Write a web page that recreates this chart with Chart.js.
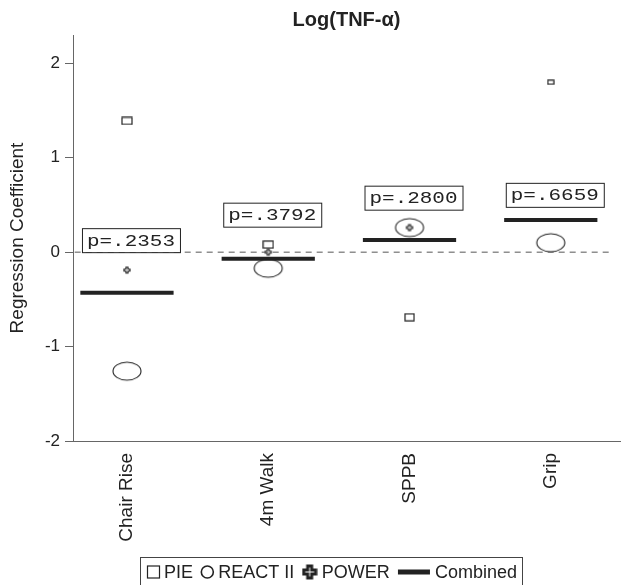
<!DOCTYPE html>
<html>
<head>
<meta charset="utf-8">
<script src="https://cdn.jsdelivr.net/npm/chart.js@4"></script>
<style>
  html, body { margin: 0; padding: 0; background: #fff; }
  #wrap { width: 627px; height: 585px; }
</style>
</head>
<body>
<div id="wrap"><canvas id="chart" width="627" height="585"></canvas></div>
<script>
// Data
const categories = ["Chair Rise", "4m Walk", "SPPB", "Grip"];
const pieValues = [1.39, 0.08, -0.69, 1.80];
const reactValues = [-1.26, -0.17, 0.26, 0.10];
const powerValues = [-0.19, 0.0, 0.26, null];
const combinedValues = [-0.43, -0.07, 0.13, 0.34];
const pValues = ["p=.2353", "p=.3792", "p=.2800", "p=.6659"];
const pLabelY = [0.0, 0.27, 0.45, 0.48]; // bottom of each p box, in data units
const yTicks = [-2, -1, 0, 1, 2];

// marker styling
const pieMarkerSize = [[10, 7], [10, 7], [9, 7], [6, 4]];
const ink = "#222";

function rectMarker(w, h) {
  const c = document.createElement("canvas");
  c.width = w + 2;
  c.height = h + 2;
  const g = c.getContext("2d");
  g.strokeStyle = ink;
  g.lineWidth = 1.2;
  g.strokeRect(1, 1, w, h);
  return c;
}

function ellipseMarker(w, h, lw) {
  const c = document.createElement("canvas");
  c.width = w + 4;
  c.height = h + 4;
  const g = c.getContext("2d");
  g.strokeStyle = ink;
  g.lineWidth = lw;
  g.beginPath();
  g.ellipse(c.width / 2, c.height / 2, w / 2, h / 2, 0, 0, Math.PI * 2);
  g.stroke();
  return c;
}

function plusMarker(s, lw) {
  const c = document.createElement("canvas");
  c.width = s + 4;
  c.height = s + 4;
  const g = c.getContext("2d");
  const a = s / 3, o = 2;
  g.strokeStyle = ink;
  g.fillStyle = "#fff";
  g.lineWidth = lw;
  g.beginPath();
  g.moveTo(o + a, o);
  g.lineTo(o + 2 * a, o);
  g.lineTo(o + 2 * a, o + a);
  g.lineTo(o + s, o + a);
  g.lineTo(o + s, o + 2 * a);
  g.lineTo(o + 2 * a, o + 2 * a);
  g.lineTo(o + 2 * a, o + s);
  g.lineTo(o + a, o + s);
  g.lineTo(o + a, o + 2 * a);
  g.lineTo(o, o + 2 * a);
  g.lineTo(o, o + a);
  g.lineTo(o + a, o + a);
  g.closePath();
  g.fill();
  g.stroke();
  return c;
}

const reactMarker = ellipseMarker(28, 18, 1.1);
const powerMarker = plusMarker(6, 1.2);

const xMin = 0.618;
const xMax = 4.49;
const halfWidth = 0.33;

function toPoints(values) {
  return values.map((v, i) => ({ x: i + 1, y: v }));
}

const combinedPoints = [];
combinedValues.forEach((v, i) => {
  combinedPoints.push({ x: i + 1 - halfWidth, y: v });
  combinedPoints.push({ x: i + 1 + halfWidth, y: v });
  combinedPoints.push({ x: i + 1 + halfWidth + 0.01, y: null });
});

// p-value boxes
const pBoxes = {
  id: "pBoxes",
  afterDatasetsDraw(chart) {
    const ctx = chart.ctx;
    const xs = chart.scales.x, ys = chart.scales.y;
    ctx.save();
    pValues.forEach((txt, i) => {
      const cx = xs.getPixelForValue(i + 1) + 4;
      const bottom = ys.getPixelForValue(pLabelY[i]);
      const w = 98, h = 24;
      ctx.fillStyle = "#fff";
      ctx.fillRect(cx - w / 2, bottom - h, w, h);
      ctx.strokeStyle = ink;
      ctx.lineWidth = 1;
      ctx.strokeRect(cx - w / 2 + 0.5, bottom - h + 0.5, w, h);
      ctx.font = "17px 'Liberation Mono'";
      const tw = ctx.measureText(txt).width;
      ctx.translate(cx, bottom - h / 2 + 1);
      ctx.scale(88 / tw, 1);
      ctx.fillStyle = ink;
      ctx.textAlign = "center";
      ctx.textBaseline = "middle";
      ctx.fillText(txt, 0, 0);
      ctx.setTransform(1, 0, 0, 1, 0, 0);
    });
    ctx.restore();
  }
};

// boxed legend at the bottom
const boxLegend = {
  id: "boxLegend",
  afterDraw(chart) {
    const ctx = chart.ctx;
    const left = 140, right = 522, top = 557, cy = 572;
    ctx.save();
    ctx.strokeStyle = "#444";
    ctx.lineWidth = 1;
    ctx.strokeRect(left + 0.5, top + 0.5, right - left, 40);
    ctx.font = "18px 'Liberation Sans'";
    ctx.fillStyle = ink;
    ctx.textBaseline = "middle";
    const items = [
      { label: "PIE", w: 12 },
      { label: "REACT II", w: 12 },
      { label: "POWER", w: 14 },
      { label: "Combined", w: 32 }
    ];
    let total = 0;
    items.forEach((it) => {
      it.tw = ctx.measureText(it.label).width;
      total += it.w + 5 + it.tw;
    });
    const gap = (right - left - 12 - total) / (items.length - 1);
    let x = left + 7;
    items.forEach((it, i) => {
      ctx.strokeStyle = ink;
      if (i === 0) {
        ctx.lineWidth = 1.2;
        ctx.strokeRect(x + 0.5, cy - 6, 12, 12);
      } else if (i === 1) {
        ctx.lineWidth = 1.6;
        ctx.beginPath();
        ctx.arc(x + 6, cy, 6, 0, Math.PI * 2);
        ctx.stroke();
      } else if (i === 2) {
        const m = plusMarker(12, 3);
        ctx.drawImage(m, x - 1, cy - 8);
      } else {
        ctx.fillRect(x, cy - 2.5, 32, 5);
      }
      x += it.w + 5;
      ctx.fillText(it.label, x, cy + 1);
      x += it.tw + gap;
    });
    ctx.restore();
  }
};

const chart = new Chart(document.getElementById("chart"), {
  type: "scatter",
  data: {
    datasets: [
      {
        label: "zero",
        type: "line",
        data: [{ x: 0.63, y: 0 }, { x: 4.43, y: 0 }],
        borderColor: "#555",
        borderWidth: 1,
        borderDash: [6, 5],
        pointRadius: 0
      },
      {
        label: "Combined",
        type: "line",
        data: combinedPoints,
        borderColor: ink,
        borderWidth: 4,
        pointRadius: 0,
        spanGaps: false
      },
      {
        label: "PIE",
        data: toPoints(pieValues),
        pointStyle: pieMarkerSize.map((s) => rectMarker(s[0], s[1]))
      },
      {
        label: "REACT II",
        data: toPoints(reactValues),
        pointStyle: reactMarker
      },
      {
        label: "POWER",
        data: toPoints(powerValues),
        pointStyle: powerMarker
      }
    ]
  },
  options: {
    responsive: false,
    animation: false,
    layout: { padding: { right: 7, bottom: 44 } },
    plugins: {
      legend: { display: false },
      tooltip: { enabled: false },
      title: {
        display: true,
        text: "Log(TNF-\u03b1)",
        fullSize: false,
        color: ink,
        font: { family: "'Liberation Sans'", size: 20, weight: "bold" },
        padding: { top: 8, bottom: 3 }
      }
    },
    scales: {
      x: {
        type: "linear",
        min: xMin,
        max: xMax,
        afterBuildTicks: (s) => {
          s.ticks = categories.map((c, i) => ({ value: i + 1 }));
        },
        afterFit: (s) => {
          s.height = 100;
        },
        ticks: {
          callback: (v) => categories[v - 1] || "",
          minRotation: 90,
          maxRotation: 90,
          padding: 12,
          color: ink,
          font: { family: "'Liberation Sans'", size: 19 }
        },
        grid: { drawOnChartArea: false, drawTicks: false },
        border: { color: "#666", width: 1 }
      },
      y: {
        min: -2,
        max: 2.3,
        afterBuildTicks: (s) => {
          s.ticks = yTicks.map((v) => ({ value: v }));
        },
        afterFit: (s) => {
          s.width = 73;
        },
        title: {
          display: true,
          text: "Regression Coefficient",
          color: ink,
          font: { family: "'Liberation Sans'", size: 19 },
          padding: { top: 6, bottom: 0 }
        },
        ticks: {
          color: ink,
          padding: 5,
          font: { family: "'Liberation Sans'", size: 17 }
        },
        grid: { drawOnChartArea: false, tickLength: 8, color: "#666" },
        border: { color: "#666", width: 1 }
      }
    }
  },
  plugins: [pBoxes, boxLegend]
});
</script>
</body>
</html>
